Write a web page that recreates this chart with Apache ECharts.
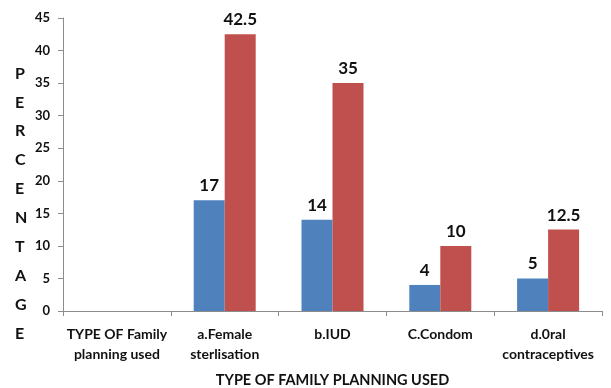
<!DOCTYPE html>
<html><head><meta charset="utf-8">
<script src="https://cdn.jsdelivr.net/npm/echarts@6/dist/echarts.min.js"></script>
<style>html,body{margin:0;padding:0;background:#fff}#c{width:611px;height:388px}</style>
</head><body><div id="c"></div>
<script>
const categories = ["TYPE OF Family\nplanning used", "a.Female\nsterlisation", "b.IUD", "C.Condom", "d.0ral\ncontraceptives"];
const seriesBlue = [null, 17, 14, 4, 5];
const seriesRed = [null, 42.5, 35, 10, 12.5];
const yTitle = "PERCENTAGE";
const xTitle = "TYPE OF FAMILY PLANNING USED";

const F = "Lato, 'Open Sans', sans-serif";
const chart = echarts.init(document.getElementById('c'));
const lbl = {show: true, position: 'top', distance: 6, fontFamily: F, fontWeight: 'bold', fontSize: 17, color: '#111'};
chart.setOption({
  animation: false,
  grid: {left: 63, right: 9, top: 18, bottom: 77, containLabel: false, outerBoundsMode: 'none'},
  graphic: [{
    type: 'text', left: 15, top: 59,
    style: {text: yTitle.split('').join('\n'), fontFamily: F, fontWeight: 'bold', fontSize: 16, lineHeight: 28.9, fill: '#111', align: 'center'}
  }],
  xAxis: {
    type: 'category', data: categories,
    name: xTitle, nameLocation: 'middle', nameGap: 62,
    nameTextStyle: {fontFamily: F, fontWeight: 'bold', fontSize: 14.5, color: '#111'},
    axisLine: {lineStyle: {color: '#8c8c8c'}},
    axisTick: {show: true, length: 5, lineStyle: {color: '#8c8c8c'}},
    axisLabel: {fontFamily: F, fontWeight: 'bold', fontSize: 14, color: '#111', lineHeight: 20, margin: 13, interval: 0}
  },
  yAxis: {
    type: 'value', min: 0, max: 45, interval: 5,
    axisLine: {show: true, lineStyle: {color: '#8c8c8c'}},
    axisTick: {show: true, length: 5, lineStyle: {color: '#8c8c8c'}},
    splitLine: {show: false},
    axisLabel: {fontFamily: F, fontWeight: 'bold', fontSize: 13, color: '#111', margin: 13}
  },
  series: [
    {type: 'bar', data: seriesBlue, barWidth: 31, barGap: '0%', itemStyle: {color: '#4F81BD'}, label: lbl},
    {type: 'bar', data: seriesRed, barWidth: 31, barGap: '0%', itemStyle: {color: '#C0504D'}, label: lbl}
  ]
});
</script></body></html>
